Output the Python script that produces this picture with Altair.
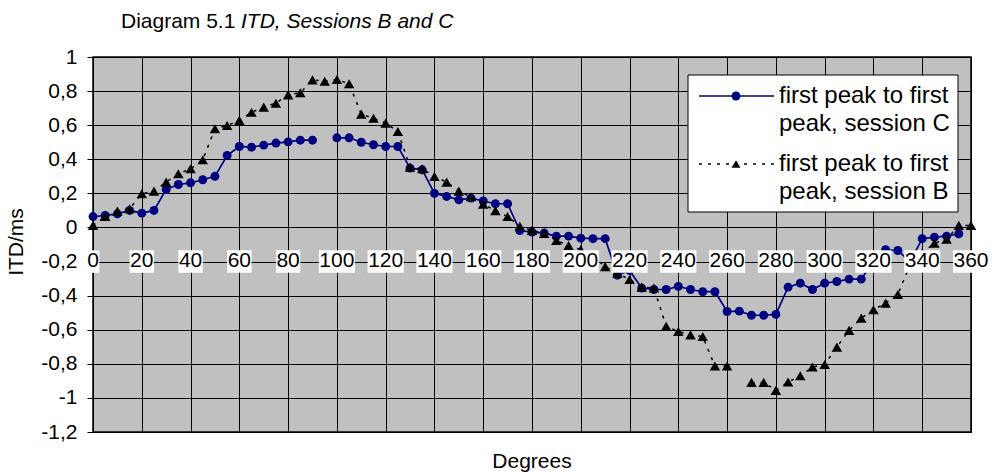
import altair as alt
import pandas as pd

# ITD (ms) per azimuth, measured every 5 degrees; None = no measurement
degrees = list(range(0, 365, 5))

session_c = [
    0.064, 0.070, 0.080, 0.100, 0.084, 0.100, 0.223, 0.252, 0.262, 0.280,
    0.300, 0.422, 0.475, 0.471, 0.483, 0.495, 0.502, 0.512, 0.512, None,
    0.526, 0.526, 0.500, 0.485, 0.475, 0.475, 0.348, 0.338, 0.200, 0.182,
    0.162, 0.172, 0.155, 0.139, 0.139, -0.018, -0.027, -0.033, -0.051, -0.051,
    -0.063, -0.066, -0.066, -0.280, -0.252, -0.356, -0.364, -0.364, -0.346, -0.364,
    -0.377, -0.377, -0.493, -0.491, -0.515, -0.515, -0.510, -0.350, -0.327, -0.364,
    -0.327, -0.317, -0.303, -0.303, -0.200, -0.131, -0.135, -0.200, -0.066, -0.057,
    -0.051, -0.037, None,
]

session_b = [
    0.012, 0.064, 0.096, 0.110, 0.198, 0.213, 0.266, 0.315, 0.344, 0.397,
    0.579, 0.598, 0.628, 0.676, 0.706, 0.729, 0.778, 0.790, 0.866, 0.858,
    0.868, 0.843, 0.665, 0.641, 0.612, 0.563, 0.354, 0.344, 0.299, 0.266,
    0.213, 0.180, 0.137, 0.098, 0.064, 0.007, -0.017, -0.035, -0.076, -0.106,
    -0.130, -0.170, -0.230, -0.270, -0.305, -0.350, -0.355, -0.580, -0.610, -0.630,
    -0.640, -0.813, -0.813, None, -0.909, -0.909, -0.956, -0.907, -0.870, -0.819,
    -0.804, -0.702, -0.604, -0.532, -0.483, -0.444, -0.393, -0.220, -0.150, -0.092,
    -0.069, 0.012, 0.012,
]

x_ticks = list(range(0, 380, 20))
y_ticks = [-1.2, -1.0, -0.8, -0.6, -0.4, -0.2, 0.0, 0.2, 0.4, 0.6, 0.8, 1.0]

FONT = "Arial, Liberation Sans, sans-serif"
NAVY = "#000080"


def series_frame(values, name):
    """Long table; a missing value starts a new line segment."""
    rows, seg = [], 0
    for d, v in zip(degrees, values):
        if v is None:
            seg += 1
            continue
        rows.append({"deg": d, "itd": v, "seg": f"{name}-{seg}"})
    return pd.DataFrame(rows)


df_c = series_frame(session_c, "C")
df_b = series_frame(session_b, "B")

x_scale = alt.Scale(domain=[0, 360], nice=False, zero=False)
y_scale = alt.Scale(domain=[-1.2, 1.0], nice=False, zero=False)

x_axis = alt.Axis(values=x_ticks, grid=True, gridColor="black", gridOpacity=1,
                  gridWidth=1, labels=False, ticks=False, domain=False, title=None)
y_axis = alt.Axis(values=y_ticks, grid=True, gridColor="black", gridOpacity=1,
                  gridWidth=1, domain=False, ticks=True, tickSize=6, tickColor="black",
                  labelFont=FONT, labelFontSize=21, labelColor="black", labelPadding=10,
                  labelExpr="replace(replace(format(datum.value, '.1~f'), '.', ','), '\u2212', '-')",
                  title=None)

x_enc = alt.X("deg:Q", scale=x_scale, axis=x_axis)
y_enc = alt.Y("itd:Q", scale=y_scale, axis=y_axis)

line_c = alt.Chart(df_c).mark_line(color=NAVY, strokeWidth=1.7).encode(
    x=x_enc, y=y_enc, detail="seg:N")
pts_c = alt.Chart(df_c).mark_point(shape="circle", filled=True, color=NAVY,
                                   size=80, opacity=1).encode(x=x_enc, y=y_enc)

line_b = alt.Chart(df_b).mark_line(color="black", strokeWidth=1.5,
                                   strokeDash=[3, 6]).encode(
    x=x_enc, y=y_enc, detail="seg:N")
pts_b = alt.Chart(df_b).mark_point(shape="triangle-up", filled=True, color="black",
                                   size=110, opacity=1).encode(x=x_enc, y=y_enc)

# Degree labels sit inside the plot on white boxes around the -0.2 line
ticks_df = pd.DataFrame({"deg": x_ticks, "label": [str(t) for t in x_ticks]})
label_boxes = alt.Chart(ticks_df).transform_calculate(
    x0="datum.deg - (length(datum.label) * 11.7 + 1) / 2 / 2.439",
    x1="datum.deg + (length(datum.label) * 11.7 + 1) / 2 / 2.439",
).mark_rect(color="white").encode(
    x=alt.X("x0:Q", scale=x_scale, axis=x_axis),
    x2="x1:Q",
    y=alt.Y(datum=-0.2 + 0.066, scale=y_scale, axis=y_axis),
    y2=alt.Y2(datum=-0.2 - 0.066),
)
label_text = alt.Chart(ticks_df).mark_text(
    font=FONT, fontSize=21, color="black", baseline="middle", align="center", dy=-1,
).encode(
    x=alt.X("deg:Q", scale=x_scale, axis=x_axis),
    y=alt.Y(datum=-0.2, scale=y_scale, axis=y_axis),
    text="label:N",
)

one = pd.DataFrame({"k": [0]})

# Legend box
legend_box = alt.Chart(one).mark_rect(fill="white", stroke="black", strokeWidth=1).encode(
    x=alt.value(595), x2=alt.value(865), y=alt.value(18), y2=alt.value(155))
leg_line_c = alt.Chart(one).mark_rule(color=NAVY, strokeWidth=1.7).encode(
    x=alt.value(606), x2=alt.value(681), y=alt.value(39))
leg_pt_c = alt.Chart(one).mark_point(shape="circle", filled=True, color=NAVY,
                                     size=80, opacity=1).encode(
    x=alt.value(643), y=alt.value(39))
leg_line_b = alt.Chart(one).mark_rule(color="black", strokeWidth=1.5,
                                      strokeDash=[3, 6]).encode(
    x=alt.value(606), x2=alt.value(681), y=alt.value(107))
leg_pt_b = alt.Chart(one).mark_point(shape="triangle-up", filled=True, color="black",
                                     size=80, opacity=1).encode(
    x=alt.value(643), y=alt.value(107))


def text_at(txt, x, y, size=21, **kw):
    return alt.Chart(one).mark_text(
        text=txt, font=FONT, fontSize=size, color="black", **kw
    ).encode(x=alt.value(x), y=alt.value(y))


leg_texts = [
    text_at("first peak to first", 686, 39, 24, align="left", baseline="middle"),
    text_at("peak, session C", 686, 67, 24, align="left", baseline="middle"),
    text_at("first peak to first", 686, 107, 24, align="left", baseline="middle"),
    text_at("peak, session B", 686, 135, 24, align="left", baseline="middle"),
]

title_a = text_at("Diagram 5.1", 28, -35, 21, align="left", baseline="middle")
title_b = text_at("ITD, Sessions B and C", 148, -35, 21, align="left",
                  baseline="middle", fontStyle="italic")
y_title = text_at("ITD/ms", -76, 185, 21, align="center", baseline="middle", angle=270)
x_title = text_at("Degrees", 439, 405, 21, align="center", baseline="middle")

chart = alt.layer(
    line_c, pts_c, line_b, pts_b, label_boxes, label_text,
    legend_box, leg_line_c, leg_pt_c, leg_line_b, leg_pt_b, *leg_texts,
    title_a, title_b, y_title, x_title,
).properties(
    width=878, height=375,
    background="white",
    autosize=alt.AutoSizeParams(type="none"),
    padding={"left": 93, "top": 57, "right": 21, "bottom": 40},
).configure_view(
    fill="#C0C0C0", stroke="black", strokeWidth=1.5,
)

chart.save("out.html", embed_options={"renderer": "svg", "actions": False})
